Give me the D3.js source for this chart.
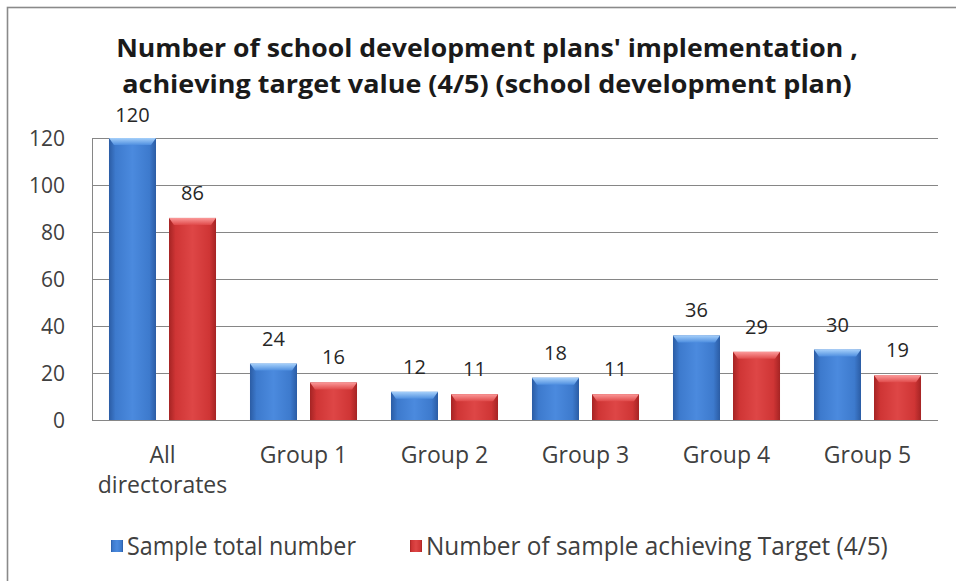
<!DOCTYPE html>
<html>
<head>
<meta charset="utf-8">
<script src="https://cdn.jsdelivr.net/npm/d3@7"></script>
<style>
  html, body { margin: 0; padding: 0; background: #fff; }
  svg { display: block; }
</style>
</head>
<body>
<svg id="chart" width="956" height="581"></svg>
<script>
// Chart data
const categories = [["All", "directorates"], ["Group 1"], ["Group 2"], ["Group 3"], ["Group 4"], ["Group 5"]];
const seriesNames = ["Sample total number", "Number of sample achieving Target (4/5)"];
const sampleTotal = [120, 24, 12, 18, 36, 30];
const achievingTarget = [86, 16, 11, 11, 29, 19];
const yTicks = [0, 20, 40, 60, 80, 100, 120];
const titleLines = [
  "Number of school development plans' implementation ,",
  "achieving target value (4/5) (school development plan)"
];

const svg = d3.select("#chart");
const plot = { left: 92, right: 938, top: 138, bottom: 420 };
const FONT = "'Open Sans', 'DejaVu Sans', sans-serif";

// Squeeze a text node horizontally so it spans the given width
function fitWidth(sel, width, anchorX, baseY) {
  sel.each(function () {
    const w = this.getComputedTextLength();
    const sx = width / w;
    d3.select(this).attr("x", 0).attr("y", 0)
      .attr("transform", `translate(${anchorX},${baseY}) scale(${sx},1)`);
  });
}

// Outer frame (only top and left edges fall inside the window)
svg.append("rect")
  .attr("x", 7.5).attr("y", 7.5)
  .attr("width", 1200).attr("height", 1200)
  .attr("fill", "#fff")
  .attr("stroke", "#8a8a8a").attr("stroke-width", 1.6);

// Gradients for the bevelled bars
const defs = svg.append("defs");
const palettes = [
  { id: "blue", edge: "#2b5ca4", mid: "#3d7acd", core: "#4b8ade", capTop: "#a6d0fa", capBot: "#4f8fe0" },
  { id: "red",  edge: "#a52424", mid: "#cf3535", core: "#de4646", capTop: "#fb9a9a", capBot: "#e04a4a" }
];
palettes.forEach(p => {
  const g = defs.append("linearGradient").attr("id", "body-" + p.id)
    .attr("x1", "0%").attr("x2", "100%").attr("y1", "0%").attr("y2", "0%");
  [[0, p.edge], [0.14, p.mid], [0.5, p.core], [0.86, p.mid], [1, p.edge]]
    .forEach(([o, c]) => g.append("stop").attr("offset", o).attr("stop-color", c));
  const c = defs.append("linearGradient").attr("id", "cap-" + p.id)
    .attr("x1", "0%").attr("x2", "0%").attr("y1", "0%").attr("y2", "100%");
  [[0, p.capTop], [1, p.capBot]]
    .forEach(([o, col]) => c.append("stop").attr("offset", o).attr("stop-color", col));
});

// Scales
const x0 = d3.scaleBand()
  .domain(d3.range(categories.length))
  .range([plot.left, plot.right])
  .paddingInner(0).paddingOuter(0);
const x1 = d3.scaleBand()
  .domain(d3.range(seriesNames.length))
  .range([0, x0.bandwidth()])
  .paddingInner(0.2167).paddingOuter(0.283);
const y = d3.scaleLinear().domain([0, 120]).range([plot.bottom, plot.top]);

// Gridlines
svg.append("g")
  .selectAll("line")
  .data(yTicks)
  .join("line")
  .attr("x1", plot.left).attr("x2", plot.right)
  .attr("y1", d => Math.round(y(d)) + 0.5).attr("y2", d => Math.round(y(d)) + 0.5)
  .attr("stroke", "#868686").attr("stroke-width", 1);

// Y axis
const yAxis = svg.append("g")
  .attr("transform", `translate(${plot.left},0)`)
  .call(d3.axisLeft(y).tickValues(yTicks).tickSize(0).tickPadding(27));
yAxis.select(".domain").attr("stroke", "#868686").attr("d", `M0.5,${plot.top}V${plot.bottom}`);
yAxis.selectAll("text")
  .attr("font-family", FONT).attr("font-size", 21).attr("fill", "#404040")
  .attr("dy", "0.35em");

// Bars
const seriesValues = [sampleTotal, achievingTarget];
const groups = svg.append("g")
  .selectAll("g")
  .data(categories.map((c, i) => i))
  .join("g")
  .attr("transform", i => `translate(${x0(i)},0)`);

const bars = groups.selectAll("g.bar")
  .data(i => seriesValues.map((vals, s) => ({ s, v: vals[i] })))
  .join("g").attr("class", "bar");

bars.append("rect")
  .attr("x", d => x1(d.s))
  .attr("y", d => y(d.v))
  .attr("width", x1.bandwidth())
  .attr("height", d => y(0) - y(d.v))
  .attr("fill", d => `url(#body-${palettes[d.s].id})`);

// Bevelled top cap of each bar
bars.append("path")
  .attr("d", d => {
    const bx = x1(d.s), bw = x1.bandwidth(), by = y(d.v), cap = 7, inset = 5;
    return `M${bx},${by}H${bx + bw}L${bx + bw - inset},${by + cap}H${bx + inset}Z`;
  })
  .attr("fill", d => `url(#cap-${palettes[d.s].id})`);

// Value labels
bars.append("text")
  .attr("x", d => x1(d.s) + x1.bandwidth() / 2)
  .attr("y", d => Math.max(y(d.v) - 18, 122))
  .attr("text-anchor", "middle")
  .attr("font-family", FONT).attr("font-size", 20).attr("fill", "#262626")
  .text(d => d.v);

// X axis line
svg.append("line")
  .attr("x1", plot.left).attr("x2", plot.right)
  .attr("y1", plot.bottom + 0.5).attr("y2", plot.bottom + 0.5)
  .attr("stroke", "#868686");

// Category labels
const catText = svg.append("g").selectAll("text")
  .data(categories)
  .join("text")
  .attr("x", (d, i) => x0(i) + x0.bandwidth() / 2)
  .attr("y", 463)
  .attr("text-anchor", "middle")
  .attr("font-family", FONT).attr("font-size", 23).attr("fill", "#404040");
catText.selectAll("tspan")
  .data(d => d)
  .join("tspan")
  .attr("x", function () { return d3.select(this.parentNode).attr("x"); })
  .attr("dy", (d, j) => j === 0 ? 0 : 30)
  .text(d => d);

// Title
const titleWidths = [742, 730];
svg.append("g").selectAll("text")
  .data(titleLines)
  .join("text")
  .attr("text-anchor", "middle")
  .attr("font-family", FONT).attr("font-weight", "bold").attr("font-size", 24.5)
  .attr("fill", "#1a1a1a")
  .text(d => d)
  .each(function (d, i) {
    fitWidth(d3.select(this), titleWidths[i], 487, 57 + i * 36);
  });

// Legend
const legendX = [111, 410];
const legendTextWidths = [229, 462];
const legend = svg.append("g").selectAll("g")
  .data(seriesNames)
  .join("g")
  .attr("transform", (d, i) => `translate(${legendX[i]},546)`);
legend.append("rect")
  .attr("x", 0).attr("y", -6).attr("width", 12).attr("height", 12)
  .attr("fill", (d, i) => `url(#body-${palettes[i].id})`);
legend.append("text")
  .attr("font-family", FONT).attr("font-size", 25).attr("fill", "#404040")
  .text(d => d)
  .each(function (d, i) {
    fitWidth(d3.select(this), legendTextWidths[i], 16, 9);
  });
</script>
</body>
</html>
